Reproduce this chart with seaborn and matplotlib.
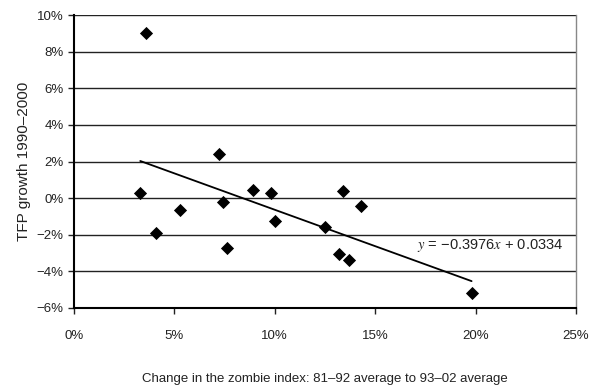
import matplotlib
matplotlib.use("Agg")
import matplotlib.pyplot as plt
from matplotlib.ticker import PercentFormatter
import numpy as np
import pandas as pd
import seaborn as sns

# change in zombie index (fraction) and TFP growth (fraction)
zombie_change = [0.036, 0.033, 0.041, 0.053, 0.072, 0.074, 0.076, 0.089,
                 0.098, 0.100, 0.125, 0.132, 0.134, 0.137, 0.143, 0.198]
tfp_growth = [0.090, 0.0027, -0.019, -0.0065, 0.024, -0.002, -0.027, 0.0045,
              0.003, -0.0125, -0.016, -0.0305, 0.004, -0.034, -0.0045, -0.052]
slope = -0.3976
intercept = 0.0334
x_ticks = [0.0, 0.05, 0.10, 0.15, 0.20, 0.25]
y_ticks = [-0.06, -0.04, -0.02, 0.0, 0.02, 0.04, 0.06, 0.08, 0.10]

sns.set_style("white")
plt.rcParams['font.family'] = ['Liberation Sans', 'DejaVu Sans']
plt.rcParams['mathtext.fontset'] = 'stix'

df = pd.DataFrame({'x': zombie_change, 'y': tfp_growth})

fig = plt.figure(figsize=(5.99, 3.91), dpi=100)
ax = fig.add_axes([74 / 599, 1 - 308 / 391, 502 / 599, 293 / 391])

# gridlines
for yv in y_ticks[1:]:
    ax.axhline(yv, color='#222222', lw=1.0, zorder=1)

sns.scatterplot(data=df, x='x', y='y', marker='D', s=45, color='black',
                edgecolor='black', linewidth=0, ax=ax, zorder=3)

# trend line over data range
xl = np.array([min(zombie_change), max(zombie_change)])
ax.plot(xl, slope * xl + intercept, color='black', lw=1.3, zorder=2)

ax.text(0.171, -0.026, r"$y$ = −0.3976$x$ + 0.0334", fontsize=10.5,
        color='#222222', va='center', ha='left')

ax.set_xlim(0, 0.25)
ax.set_ylim(-0.06, 0.10)
ax.set_xticks(x_ticks)
ax.set_yticks(y_ticks)
ax.xaxis.set_major_formatter(PercentFormatter(1.0, decimals=0))
ax.yaxis.set_major_formatter(PercentFormatter(1.0, decimals=0))
ax.set_yticklabels(['−6%', '−4%', '−2%', '0%', '2%', '4%', '6%', '8%', '10%'])
ax.tick_params(axis='both', labelsize=9.5, colors='#222222', length=4,
               width=1, direction='out', bottom=True, left=True)
ax.tick_params(axis='x', pad=12)

ax.spines['left'].set_color('black')
ax.spines['bottom'].set_color('black')
ax.spines['left'].set_linewidth(1.5)
ax.spines['bottom'].set_linewidth(1.5)
ax.spines['top'].set_visible(False)
ax.spines['right'].set_color('#888888')
ax.spines['right'].set_linewidth(1.0)

ax.set_xlabel('Change in the zombie index: 81–92 average to 93–02 average',
              fontsize=9.5, color='#222222', labelpad=22)
ax.set_ylabel('TFP growth 1990–2000', fontsize=11, color='#222222', labelpad=4)

fig.savefig('out.png', dpi=100)
